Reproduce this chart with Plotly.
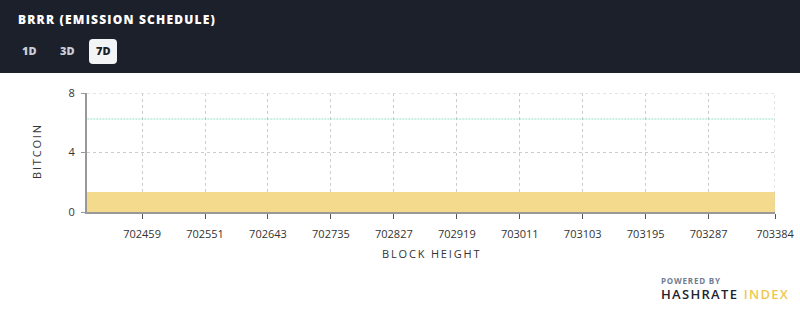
import plotly.graph_objects as go

# ---- data ----
first_block = 702379
last_block = 703384
block_heights = list(range(first_block, last_block + 1))
n_blocks = len(block_heights)
bar_values = [1.35] * n_blocks          # yellow bars (~1.35 BTC per block)
subsidy_values = [6.25] * n_blocks      # block subsidy line (6.25 BTC)
x_tick_vals = [702459, 702551, 702643, 702735, 702827, 702919, 703011, 703103, 703195, 703287, 703384]
y_tick_vals = [0, 4, 8]

W, H = 800, 315
L, R, T, B = 87, 775, 93, 212

def px_x(x):
    return (x - L) / (R - L)

def px_y(y):
    return (B - y) / (B - T)

def spaced(s, sep="\u200a"):
    return sep.join(s)

fig = go.Figure()
fig.add_trace(go.Bar(
    x=block_heights, y=bar_values,
    marker=dict(color="#f4da8c", line=dict(width=0)),
    width=0.8, showlegend=False, hoverinfo="skip",
))
fig.add_trace(go.Scatter(
    x=block_heights, y=subsidy_values, mode="lines",
    line=dict(color="rgba(100,210,175,0.45)", width=1.5, dash="2px,1px"),
    showlegend=False, hoverinfo="skip",
))

shapes = []
# edge gridlines (top at y=8 and right at last tick)
shapes.append(dict(type="line", xref="paper", yref="y", x0=0, x1=1, y0=y_tick_vals[-1], y1=y_tick_vals[-1],
                   line=dict(color="#cccccc", width=1, dash="3px,3px"), layer="below"))
shapes.append(dict(type="line", xref="x", yref="paper", x0=x_tick_vals[-1], x1=x_tick_vals[-1], y0=0, y1=1,
                   line=dict(color="#cccccc", width=1, dash="3px,3px"), layer="above"))
# header
shapes.append(dict(type="rect", xref="paper", yref="paper",
                   x0=px_x(0), x1=px_x(W), y0=px_y(73), y1=px_y(0),
                   fillcolor="#1c202b", line=dict(width=0), layer="above"))
# 7D button rounded rect
bx0, bx1, by0, by1, r = 89, 117, 39, 64, 4
def P(x, y):
    return f"{px_x(x)},{px_y(y)}"
path = (f"M {P(bx0 + r, by0)} L {P(bx1 - r, by0)} Q {P(bx1, by0)} {P(bx1, by0 + r)} "
        f"L {P(bx1, by1 - r)} Q {P(bx1, by1)} {P(bx1 - r, by1)} "
        f"L {P(bx0 + r, by1)} Q {P(bx0, by1)} {P(bx0, by1 - r)} "
        f"L {P(bx0, by0 + r)} Q {P(bx0, by0)} {P(bx0 + r, by0)} Z")
shapes.append(dict(type="path", xref="paper", yref="paper", path=path,
                   fillcolor="#f3f4f6", line=dict(width=0), layer="above"))

annotations = []
def ann(x, y, text, size, color, xanchor="left", weight="normal", family="Open Sans"):
    annotations.append(dict(x=px_x(x), y=px_y(y), xref="paper", yref="paper",
                            text=text, showarrow=False, xanchor=xanchor, yanchor="middle",
                            font=dict(size=size, color=color, family=family, weight=weight)))

ann(16, 19, spaced("BRRR (EMISSION SCHEDULE)"), 12, "#ffffff", weight=800)
ann(29, 51, "1D", 11, "#c9ced8", xanchor="center", weight=800)
ann(67, 51, "3D", 11, "#c9ced8", xanchor="center", weight=800)
ann(103, 51, "7D", 11, "#1c202b", xanchor="center", weight=800)
# axis titles
annotations.append(dict(x=px_x(36), y=px_y(152), xref="paper", yref="paper",
                        text=spaced("BITCOIN", "\u2009"), showarrow=False, textangle=-90,
                        xanchor="center", yanchor="middle",
                        font=dict(size=11, color="#333333", family="Open Sans")))
ann(430, 253, spaced("BLOCK HEIGHT", "\u2009"), 11, "#333333", xanchor="center")
# footer
ann(659, 280, spaced("POWERED BY", "\u200a"), 8, "#6f7d92", weight=700)
ann(659, 294, spaced("HASHRATE", "\u200a") + "\u00a0\u00a0" + "<span style='color:#eec84f'>" + spaced("INDEX", "\u200a") + "</span>",
    13, "#1f2430", weight=600)

fig.update_layout(
    width=W, height=H,
    margin=dict(l=L, r=W - R, t=T, b=H - B),
    paper_bgcolor="#ffffff", plot_bgcolor="#ffffff",
    bargap=0, barmode="overlay",
    shapes=shapes, annotations=annotations,
    font=dict(family="Open Sans", size=11, color="#333333"),
    xaxis=dict(range=[first_block - 0.5, last_block], tickvals=x_tick_vals, tickformat="d",
               ticks="outside", ticklen=5, tickcolor="#555555", ticklabelstandoff=6,
               showline=True, linecolor="#999999", linewidth=1.5, automargin=False,
               showgrid=True, gridcolor="#cccccc", griddash="3px,3px", gridwidth=1,
               zeroline=False, tickfont=dict(size=11, color="#333333")),
    yaxis=dict(range=[0, 8], tickvals=y_tick_vals, automargin=False,
               ticks="outside", ticklen=4, tickcolor="#999999", ticklabelstandoff=4,
               showline=True, linecolor="#999999", linewidth=2,
               showgrid=True, gridcolor="#cccccc", griddash="3px,3px", gridwidth=1,
               zeroline=False, tickfont=dict(size=11, color="#333333")),
)
fig.write_html("out.html")
